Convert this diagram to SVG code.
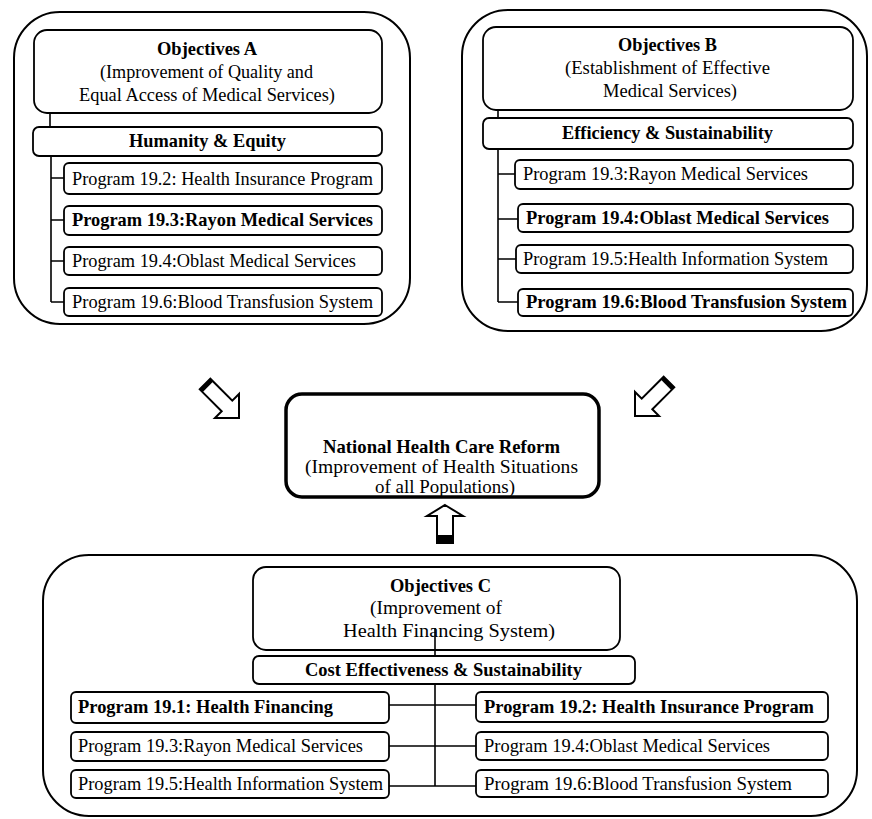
<svg xmlns="http://www.w3.org/2000/svg" width="872" height="819" viewBox="0 0 872 819">
  <style>
    text { font-family: "Liberation Serif", "Times New Roman", serif; font-size: 18.3px; fill: #000; }
    .b { font-weight: bold; }
    .panel { fill: none; stroke: #000; stroke-width: 2; }
    .obj { fill: #fff; stroke: #000; stroke-width: 1.8; }
    .prog { fill: #fff; stroke: #000; stroke-width: 1.8; }
    .core { fill: #fff; stroke: #000; stroke-width: 3.5; }
    .wire { fill: none; stroke: #000; stroke-width: 1.6; }
    .arrow { fill: #fff; stroke: #000; stroke-width: 2; stroke-linejoin: miter; }
  </style>
  <defs>
    <!-- hollow block arrow, tip at origin, pointing along +x -->
    <g id="blockArrow">
      <path class="arrow" d="M0,0 L-17,-17 L-17,-7.5 L-48,-7.5 L-48,7.5 L-17,7.5 L-17,17 Z"/>
      <rect x="-48" y="-7.5" width="4" height="15" fill="#000"/>
    </g>
  </defs>

  <rect width="872" height="819" fill="#fff"/>

  <!-- outer frames -->
  <g id="frameA"><rect class="panel" x="14" y="12" width="396" height="312" rx="46"/></g>
  <g id="frameB"><rect class="panel" x="462" y="10" width="405" height="321" rx="46"/></g>
  <g id="frameC"><rect class="panel" x="43" y="555" width="814" height="261" rx="46"/></g>

  <!-- Objectives A -->
  <g id="objA">
    <rect class="obj" x="34" y="30" width="348" height="83" rx="13"/>
    <text class="b" x="157" y="55" textLength="100" lengthAdjust="spacingAndGlyphs">Objectives A</text>
    <text x="100" y="78" textLength="213" lengthAdjust="spacingAndGlyphs">(Improvement of Quality and</text>
    <text x="79" y="101" textLength="256" lengthAdjust="spacingAndGlyphs">Equal Access of Medical Services)</text>
  </g>
  <g id="valueA">
    <rect class="obj" x="33" y="127" width="349" height="29" rx="6"/>
    <text class="b" x="129" y="147" textLength="157" lengthAdjust="spacingAndGlyphs">Humanity &amp; Equity</text>
  </g>
  <g id="a192">
    <rect class="prog" x="64" y="163" width="318" height="31" rx="5"/>
    <text x="72" y="185" textLength="301" lengthAdjust="spacingAndGlyphs">Program 19.2: Health Insurance Program</text>
  </g>
  <g id="a193">
    <rect class="prog" x="64" y="206" width="318" height="29" rx="5"/>
    <text class="b" x="72" y="226" textLength="301" lengthAdjust="spacingAndGlyphs">Program 19.3:Rayon Medical Services</text>
  </g>
  <g id="a194">
    <rect class="prog" x="64" y="247" width="318" height="28" rx="5"/>
    <text x="72" y="267" textLength="284" lengthAdjust="spacingAndGlyphs">Program 19.4:Oblast Medical Services</text>
  </g>
  <g id="a196">
    <rect class="prog" x="64" y="288" width="318" height="28" rx="5"/>
    <text x="72" y="308" textLength="301" lengthAdjust="spacingAndGlyphs">Program 19.6:Blood Transfusion System</text>
  </g>

  <!-- Objectives B -->
  <g id="objB">
    <rect class="obj" x="483" y="27" width="370" height="83" rx="13"/>
    <text class="b" x="618" y="51" textLength="99" lengthAdjust="spacingAndGlyphs">Objectives B</text>
    <text x="565" y="74" textLength="205" lengthAdjust="spacingAndGlyphs">(Establishment of Effective</text>
    <text x="603" y="97" textLength="134" lengthAdjust="spacingAndGlyphs">Medical Services)</text>
  </g>
  <g id="valueB">
    <rect class="obj" x="483" y="118" width="370" height="31" rx="6"/>
    <text class="b" x="562" y="139" textLength="211" lengthAdjust="spacingAndGlyphs">Efficiency &amp; Sustainability</text>
  </g>
  <g id="b193">
    <rect class="prog" x="515" y="160" width="338" height="29" rx="5"/>
    <text x="523" y="180" textLength="285" lengthAdjust="spacingAndGlyphs">Program 19.3:Rayon Medical Services</text>
  </g>
  <g id="b194">
    <rect class="prog" x="518" y="204" width="335" height="28" rx="5"/>
    <text class="b" x="526" y="224" textLength="303" lengthAdjust="spacingAndGlyphs">Program 19.4:Oblast Medical Services</text>
  </g>
  <g id="b195">
    <rect class="prog" x="516" y="245" width="337" height="28" rx="5"/>
    <text x="523" y="265" textLength="305" lengthAdjust="spacingAndGlyphs">Program 19.5:Health Information System</text>
  </g>
  <g id="b196">
    <rect class="prog" x="518" y="289" width="335" height="27" rx="5"/>
    <text class="b" x="526" y="308" textLength="321" lengthAdjust="spacingAndGlyphs">Program 19.6:Blood Transfusion System</text>
  </g>

  <!-- National reform -->
  <g id="reform">
    <rect class="core" x="286" y="394" width="313" height="103" rx="16"/>
    <text class="b" x="323" y="453" textLength="237" lengthAdjust="spacingAndGlyphs">National Health Care Reform</text>
    <text x="305" y="473" textLength="273" lengthAdjust="spacingAndGlyphs">(Improvement of Health Situations</text>
    <text x="375" y="493" textLength="140" lengthAdjust="spacingAndGlyphs">of all Populations)</text>
  </g>

  <!-- Objectives C -->
  <g id="objC">
    <rect class="obj" x="253" y="567" width="367" height="83" rx="13"/>
    <text class="b" x="390" y="592" textLength="101" lengthAdjust="spacingAndGlyphs">Objectives C</text>
    <text x="370" y="614" textLength="132" lengthAdjust="spacingAndGlyphs">(Improvement of</text>
    <text x="343" y="637" textLength="212" lengthAdjust="spacingAndGlyphs">Health Financing System)</text>
  </g>
  <g id="valueC">
    <rect class="obj" x="253" y="656" width="382" height="28" rx="6"/>
    <text class="b" x="305" y="676" textLength="277" lengthAdjust="spacingAndGlyphs">Cost Effectiveness &amp; Sustainability</text>
  </g>
  <g id="c191">
    <rect class="prog" x="71" y="692" width="318" height="31" rx="5"/>
    <text class="b" x="78" y="713" textLength="255" lengthAdjust="spacingAndGlyphs">Program 19.1: Health Financing</text>
  </g>
  <g id="c193">
    <rect class="prog" x="71" y="732" width="318" height="29" rx="5"/>
    <text x="78" y="752" textLength="285" lengthAdjust="spacingAndGlyphs">Program 19.3:Rayon Medical Services</text>
  </g>
  <g id="c195">
    <rect class="prog" x="71" y="770" width="318" height="28" rx="5"/>
    <text x="78" y="790" textLength="305" lengthAdjust="spacingAndGlyphs">Program 19.5:Health Information System</text>
  </g>
  <g id="c192">
    <rect class="prog" x="476" y="692" width="352" height="30" rx="5"/>
    <text class="b" x="484" y="713" textLength="330" lengthAdjust="spacingAndGlyphs">Program 19.2: Health Insurance Program</text>
  </g>
  <g id="c194">
    <rect class="prog" x="476" y="732" width="352" height="28" rx="5"/>
    <text x="484" y="752" textLength="286" lengthAdjust="spacingAndGlyphs">Program 19.4:Oblast Medical Services</text>
  </g>
  <g id="c196">
    <rect class="prog" x="476" y="770" width="352" height="27" rx="5"/>
    <text x="484" y="790" textLength="308" lengthAdjust="spacingAndGlyphs">Program 19.6:Blood Transfusion System</text>
  </g>

  <!-- connectors, drawn last so the C trunk shows through the objective box -->
  <g id="connectors">
    <path class="wire" d="M50,113 V127 M51,156 V302 M51,178 H64 M51,220 H64 M51,261 H64 M51,302 H64"/>
    <path class="wire" d="M498,110 V118 M498,149 V302 M498,174 H515 M498,219 H518 M498,259 H516 M498,302 H518"/>
    <path class="wire" d="M435,628 V656 M435,684 V786 M389,705 H476 M389,746 H476 M389,786 H476"/>
    <g id="arrowFromA"><use href="#blockArrow" transform="translate(239,418) rotate(45)"/></g>
    <g id="arrowFromB"><use href="#blockArrow" transform="translate(635,416) rotate(135)"/></g>
    <g id="arrowFromC">
      <path class="arrow" d="M445,505 L463,516 L453,516 L453,543 L437,543 L437,516 L427,516 Z"/>
      <rect x="437" y="535" width="16" height="8" fill="#000"/>
    </g>
  </g>
</svg>
